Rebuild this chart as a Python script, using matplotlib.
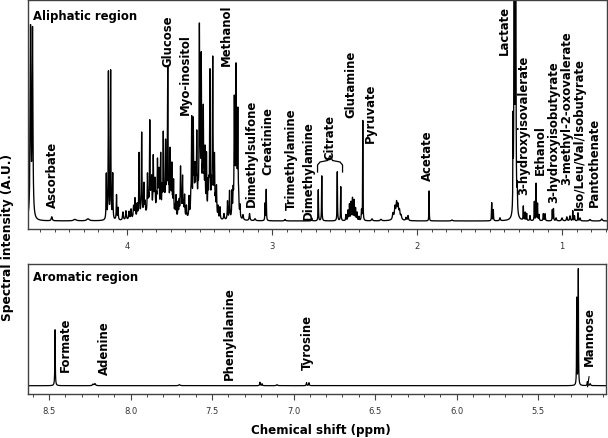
import numpy as np
import matplotlib
matplotlib.use('Agg')
import matplotlib.pyplot as plt
from matplotlib.ticker import MultipleLocator, FormatStrFormatter

# aliphatic region : peak centres (ppm), heights (A.U.), half widths (ppm)
ali_ppm = [4.6655, 4.6517, 4.519, 4.359, 4.269,
           4.1428, 4.1283, 4.1131, 4.0986, 4.0724, 4.062,
           4.028, 4.007, 3.986, 3.972, 3.955, 3.945,
           3.917, 3.899, 3.883, 3.859, 3.843, 3.830, 3.819, 3.807, 3.790, 3.779,
           3.768, 3.750, 3.734, 3.719, 3.703, 3.691, 3.679, 3.662, 3.648,
           3.631, 3.617, 3.603, 3.590, 3.572, 3.554, 3.543, 3.531, 3.519,
           3.501, 3.488, 3.474, 3.462, 3.452, 3.441, 3.428, 3.409, 3.397,
           3.383, 3.372, 3.359, 3.331, 3.307, 3.293, 3.276, 3.260, 3.248,
           3.236, 3.221, 3.200, 3.155, 3.117, 3.048, 3.040, 2.910,
           2.726, 2.681, 2.657, 2.550, 2.526,
           2.490, 2.476, 2.466, 2.455, 2.445, 2.434, 2.424, 2.414, 2.400,
           2.383, 2.374, 2.310, 2.248,
           2.166, 2.152, 2.141, 2.131, 2.121, 2.110, 2.140, 2.076, 2.062,
           1.917, 1.759, 1.485, 1.474, 1.428,
           1.338, 1.3297, 1.320, 1.309, 1.267, 1.255, 1.244, 1.221,
           1.191, 1.179, 1.169, 1.159, 1.129, 1.117, 1.067, 1.059, 1.041,
           1.000, 0.967, 0.945, 0.926, 0.914, 0.890, 0.876, 0.807, 0.726,
           3.80, 3.52, 3.88,
           3.930, 3.875, 3.852, 3.835, 3.812, 3.797, 3.784, 3.758, 3.742,
           3.727, 3.711, 3.697, 3.685, 3.670, 3.640, 3.625, 3.610, 3.560,
           3.537, 3.525, 3.510, 3.495, 3.480, 3.468, 3.435, 3.418, 3.404,
           3.390, 3.268, 3.255, 3.242, 3.230]
ali_height = [188, 186, 4, 1.5, 2,
              45, 147, 148, 45, 25, 12,
              8, 9, 8, 10, 12, 20,
              64, 83, 30, 39, 92, 32, 55, 30, 50, 40,
              59, 80, 70, 145, 63, 49, 35, 22, 15,
              49, 40, 22, 12, 20, 95, 90, 40, 74,
              181, 152, 100, 62, 59, 30, 143, 154, 57,
              30, 12, 12, 6, 18, 28, 25, 112, 144,
              102, 12, 5, 7, 2, 17, 31, 1.5,
              3, 31, 45, 49, 34,
              6, 10, 16, 18, 22, 20, 12, 8, 4,
              10, 100, 2, 1.5,
              6, 11, 14, 12, 8, 4, 3, 3, 5,
              30, 1, 18, 11, 3,
              85, 1000, 1000, 25, 14, 8, 7, 5,
              19, 37, 17, 6, 7, 7, 11, 12, 3,
              3, 4, 5, 10, 5, 8, 3, 1.5, 2,
              5, 5, 4,
              13, 11, 14, 20, 18, 15, 17, 24, 22,
              27, 22, 17, 13, 10, 16, 16, 12, 16,
              24, 27, 22, 33, 27, 22, 24, 27, 22,
              16, 22, 33, 27, 16]
ali_width = [0.003, 0.003, 0.004, 0.01, 0.01,
             0.0018, 0.0018, 0.0018, 0.0018, 0.002, 0.002,
             0.003, 0.003, 0.003, 0.003, 0.003, 0.003,
             0.0022, 0.0022, 0.0022, 0.0022, 0.0022, 0.0022, 0.0022, 0.0022, 0.0022, 0.0022,
             0.0022, 0.0022, 0.0022, 0.0022, 0.0022, 0.0022, 0.0022, 0.0022, 0.0022,
             0.0022, 0.0022, 0.0022, 0.0022, 0.0022, 0.0022, 0.0022, 0.0022, 0.0022,
             0.0022, 0.0022, 0.0022, 0.0022, 0.0022, 0.0022, 0.0022, 0.0022, 0.0022,
             0.0022, 0.0022, 0.0022, 0.003, 0.0022, 0.0022, 0.0022, 0.0022, 0.0022,
             0.0022, 0.0022, 0.003, 0.003, 0.004, 0.0015, 0.0015, 0.004,
             0.002, 0.0015, 0.0015, 0.0015, 0.0015,
             0.002, 0.002, 0.002, 0.002, 0.002, 0.002, 0.002, 0.002, 0.002,
             0.002, 0.0012, 0.004, 0.005,
             0.004, 0.004, 0.004, 0.004, 0.004, 0.004, 0.02, 0.003, 0.003,
             0.0012, 0.005, 0.0015, 0.0015, 0.003,
             0.0012, 0.0012, 0.0012, 0.002, 0.0015, 0.0015, 0.0015, 0.002,
             0.0015, 0.0012, 0.0015, 0.002, 0.002, 0.002, 0.0015, 0.0015, 0.003,
             0.004, 0.003, 0.003, 0.0015, 0.002, 0.0015, 0.003, 0.005, 0.005,
             0.04, 0.03, 0.03,
             0.0022, 0.0022, 0.0022, 0.0022, 0.0022, 0.0022, 0.0022, 0.0022, 0.0022,
             0.0022, 0.0022, 0.0022, 0.0022, 0.0022, 0.0022, 0.0022, 0.0022, 0.0022,
             0.0022, 0.0022, 0.0022, 0.0022, 0.0022, 0.0022, 0.0022, 0.0022, 0.0022,
             0.0022, 0.0022, 0.0022, 0.0022, 0.0022]

ali_labels = ['Ascorbate', 'Glucose', 'Myo-inositol', 'Methanol', 'Dimethylsulfone',
              'Creatinine', 'Trimethylamine', 'Dimethylamine', 'Citrate', 'Glutamine',
              'Pyruvate', 'Acetate', 'Lactate', '3-hydroxyisovalerate', 'Ethanol',
              '3-hydroxyisobutyrate', '3-methyl-2-oxovalerate',
              'Iso/Leu/Val/Isobutyrate', 'Pantothenate']
ali_label_ppm = [4.512, 3.719, 3.600, 3.312, 3.140, 3.030, 2.864, 2.750, 2.600, 2.457,
                 2.319, 1.926, 1.400, 1.262, 1.147, 1.055, 0.967, 0.881, 0.779]
ali_label_y = [14, 155, 107, 156, 15, 47, 12, 2, 62, 104,
               79, 41, 167, 27, 47, 19, 37, 12, 15]

# aromatic region
aro_ppm = [8.463, 8.230, 8.218, 7.700, 7.206, 7.193, 7.101, 6.920, 6.905,
           5.2625, 5.2528, 5.197, 5.180]
aro_height = [56, 1.5, 2, 1, 3.5, 2, 1, 3, 3,
              87, 116, 4, 2]
aro_width = [0.0015, 0.004, 0.004, 0.005, 0.002, 0.002, 0.004, 0.002, 0.002,
             0.0012, 0.0012, 0.002, 0.003]

aro_labels = ['Formate', 'Adenine', 'Phenylalanine', 'Tyrosine', 'Mannose']
aro_label_ppm = [8.398, 8.163, 7.394, 6.915, 5.185]
aro_label_y = [15, 12, 7, 17, 21]


def spectrum(x, centres, heights, widths):
  y = np.zeros_like(x)
  for c, h, w in zip(centres, heights, widths):
    y += h * w**2 / ((x - c)**2 + w**2)
  return y


W, H = 608, 439
fig = plt.figure(figsize=(W/100, H/100), dpi=100)

ax1 = fig.add_axes([28/W, 1-230/H, 579/W, 229.3/H])
ax2 = fig.add_axes([28/W, 1-395/H, 578/W, 130/H])

lab_font = dict(fontsize=8.4, fontweight='bold', family='DejaVu Sans')

# --- aliphatic
x1 = np.linspace(0.6, 4.75, 30000)
ax1.plot(x1, spectrum(x1, ali_ppm, ali_height, ali_width), color='black', lw=0.95)
ax1.set_xlim(4.683, 0.690)
ax1.set_ylim(-8, 221.3)
for name, px, py in zip(ali_labels, ali_label_ppm, ali_label_y):
  ax1.text(px, py, name, rotation=90, ha='center', va='bottom', **lab_font)
ax1.text(5/579, 1-16/229.3, 'Aliphatic region', transform=ax1.transAxes,
         ha='left', va='center', **lab_font)

# citrate brace (pixel coords -> data)
bx = np.array([317.5, 317.5, 320.0, 327.5, 330.0, 332.5, 340.0, 342.5, 342.5])
by = np.array([173, 166, 163, 161.5, 156.5, 161.5, 163, 166, 173])
ax1.plot(4 - (bx - 127) / 145, 222 - by, color='black', lw=0.9)

# --- aromatic
x2 = np.linspace(5.0, 8.7, 30000)
ax2.plot(x2, spectrum(x2, aro_ppm, aro_height, aro_width), color='black', lw=0.9)
ax2.set_xlim(8.629, 5.083)
ax2.set_ylim(-8.3, 121.7)
for name, px, py in zip(aro_labels, aro_label_ppm, aro_label_y):
  ax2.text(px, py, name, rotation=90, ha='center', va='bottom', **lab_font)
ax2.plot([5.196, 5.187], [-1, 9], color='black', lw=0.8)
ax2.text(5/578, 1-13/130, 'Aromatic region', transform=ax2.transAxes,
         ha='left', va='center', **lab_font)

for ax, major, fmt in [(ax1, 1.0, '%d'), (ax2, 0.5, '%.1f')]:
  ax.xaxis.set_major_locator(MultipleLocator(major))
  ax.xaxis.set_minor_locator(MultipleLocator(0.1))
  ax.xaxis.set_major_formatter(FormatStrFormatter(fmt))
  ax.set_yticks([])
  ax.tick_params(axis='x', which='major', direction='out', length=4, width=0.8,
                 color='#444444', labelsize=6, labelcolor='#333333', pad=5)
  ax.tick_params(axis='x', which='minor', direction='out', length=2.5, width=0.7,
                 color='#444444')
  for sp in ax.spines.values():
    sp.set_color('#404040')
    sp.set_linewidth(1.0)

fig.text(8/W, 1-237.5/H, 'Spectral intensity (A.U.)', rotation=90,
         ha='center', va='center', fontsize=8.8, fontweight='bold')
fig.text(321/W, 1-431/H, 'Chemical shift (ppm)', ha='center', va='center',
         fontsize=8.6, fontweight='bold')

fig.savefig('out.png', dpi=100)
